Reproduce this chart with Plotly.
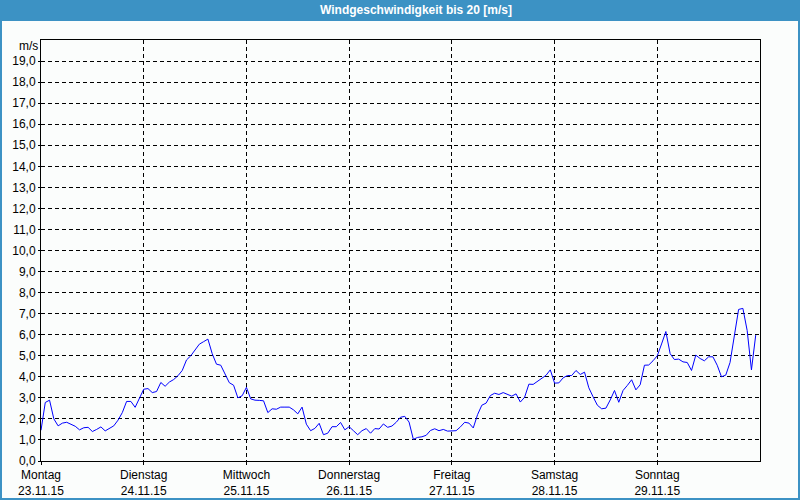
import pandas as pd
import plotly.graph_objects as go

# ---- data (hourly wind speed, m/s) ----
day_names = ["Montag", "Dienstag", "Mittwoch", "Donnerstag", "Freitag", "Samstag", "Sonntag"]
day_dates = ["23.11.15", "24.11.15", "25.11.15", "26.11.15", "27.11.15", "28.11.15", "29.11.15"]

mon = [1.46, 2.78, 2.89, 2.0, 1.67, 1.80, 1.84, 1.75, 1.65, 1.48, 1.58, 1.60,
       1.40, 1.50, 1.62, 1.43, 1.54, 1.67, 1.94, 2.30, 2.83, 2.83, 2.55, 3.0]
tue = [3.41, 3.44, 3.25, 3.30, 3.73, 3.55, 3.75, 3.87, 4.05, 4.3, 4.8, 5.0,
       5.3, 5.55, 5.67, 5.79, 5.1, 4.6, 4.55, 4.15, 3.72, 3.6, 3.0, 3.1]
wed = [3.5, 2.95, 2.89, 2.88, 2.86, 2.30, 2.48, 2.46, 2.56, 2.56, 2.56, 2.43,
       2.24, 2.56, 1.75, 1.44, 1.55, 1.79, 1.25, 1.32, 1.63, 1.63, 1.83, 1.48]
thu = [1.63, 1.44, 1.25, 1.44, 1.54, 1.32, 1.54, 1.52, 1.76, 1.6, 1.66, 1.84,
       2.08, 2.12, 1.85, 1.03, 1.12, 1.15, 1.22, 1.45, 1.53, 1.44, 1.50, 1.42]
fri = [1.42, 1.44, 1.62, 1.84, 1.80, 1.57, 2.2, 2.65, 2.75, 3.11, 3.22, 3.16,
       3.25, 3.16, 3.08, 3.19, 2.80, 3.03, 3.65, 3.64, 3.78, 3.9, 4.07, 4.33]
sat = [3.70, 3.71, 3.95, 4.06, 4.06, 4.30, 4.11, 4.22, 3.48, 3.05, 2.65, 2.48,
       2.51, 2.90, 3.35, 2.79, 3.35, 3.59, 3.86, 3.38, 3.62, 4.55, 4.56, 4.76]
sun = [5.0, 5.56, 6.15, 5.1, 4.82, 4.84, 4.71, 4.68, 4.30, 5.03, 4.87, 4.76,
       4.95, 4.95, 4.55, 4.00, 4.08, 4.68, 5.95, 7.20, 7.25, 6.2, 4.33, 5.98]

speed = mon + tue + wed + thu + fri + sat + sun
times = pd.date_range("2015-11-23 00:00", periods=len(speed), freq="h")

y_ticks = list(range(0, 20))
y_labels = [f"{v},0" for v in y_ticks]
day_starts = pd.date_range("2015-11-23", periods=7, freq="D")
x_labels = [f"{n}<br>{d}" for n, d in zip(day_names, day_dates)]

# ---- layout geometry ----
W, H = 800, 500
L, R, T, B = 41, 40, 40, 39
PW, PH = W - L - R, H - T - B
BLUE = "#3c92c4"
BG = "#fbfdfc"
FONT = "Liberation Sans"

fig = go.Figure(go.Scatter(x=times, y=speed, mode="lines",
                           line=dict(color="#0000ff", width=1),
                           hoverinfo="skip"))

fig.update_layout(
    width=W, height=H,
    margin=dict(l=L, r=R, t=T, b=B, autoexpand=False),
    paper_bgcolor=BG, plot_bgcolor=BG,
    showlegend=False,
    font=dict(family=FONT, size=12, color="black"),
    xaxis=dict(
        type="date",
        range=["2015-11-23 00:00", "2015-11-30 00:00"],
        tickvals=list(day_starts), ticktext=x_labels,
        showgrid=True, gridcolor="black", gridwidth=1, griddash="4px,3px",
        showline=True, linecolor="black", linewidth=1, mirror=True,
        ticks="outside", ticklen=3, tickcolor="black",
        automargin=False,
        tickfont=dict(family=FONT, size=12, color="black"),
        zeroline=False, fixedrange=True,
    ),
    yaxis=dict(
        range=[0, 20],
        tickvals=y_ticks, ticktext=y_labels,
        showgrid=True, gridcolor="black", gridwidth=1, griddash="4px,3px",
        showline=True, linecolor="black", linewidth=1, mirror=True,
        ticks="outside", ticklen=2, tickcolor="black", automargin=False,
        tickfont=dict(family=FONT, size=12, color="black"),
        zeroline=False, fixedrange=True,
    ),
    shapes=[
        dict(type="rect", xref="paper", yref="paper", layer="below",
             x0=-L / PW, x1=1 + R / PW, y0=1 + (T - 21) / PH, y1=1 + T / PH,
             fillcolor=BLUE, line=dict(width=0)),
        dict(type="rect", xref="paper", yref="paper",
             x0=-L / PW, x1=1 + R / PW, y0=-B / PH, y1=1 + T / PH,
             fillcolor="rgba(0,0,0,0)", line=dict(color=BLUE, width=4)),
    ],
    annotations=[
        dict(text="<b>Windgeschwindigkeit bis 20 [m/s]</b>", xref="paper", yref="paper",
             x=(416 - L) / PW, y=1 + (T - 10) / PH, xanchor="center", yanchor="middle",
             showarrow=False, font=dict(family=FONT, size=12, color="white")),
        dict(text="m/s", xref="paper", yref="paper",
             x=(28 - L) / PW, y=1 - 6 / PH, xanchor="center", yanchor="middle",
             showarrow=False, font=dict(family=FONT, size=12, color="black")),
    ],
)

fig.write_html("out.html")
